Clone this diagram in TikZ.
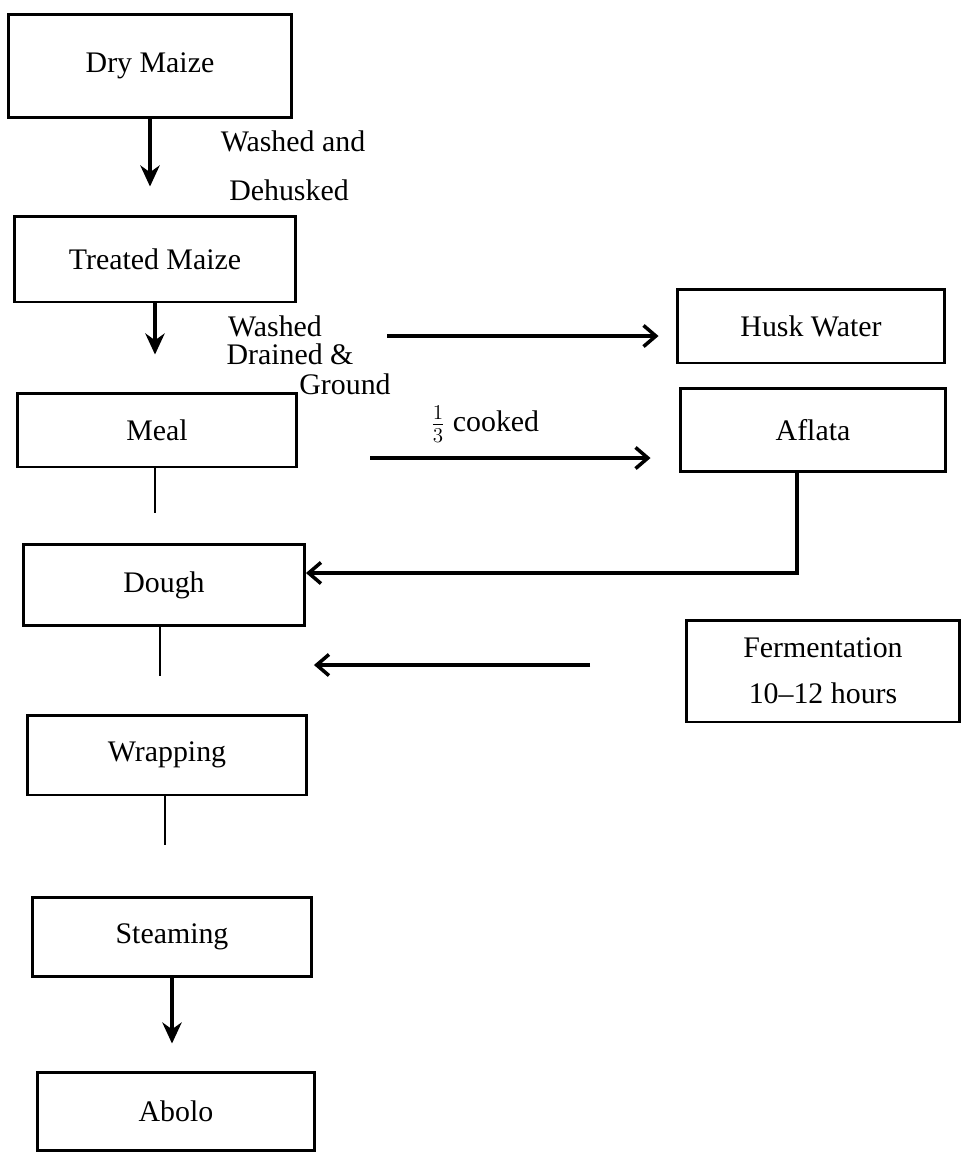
\documentclass[tikz,border=0pt]{standalone}
\usepackage{fontspec}
\setmainfont{Liberation Serif}
\usetikzlibrary{arrows.meta}

\tikzset{
	box/.style={draw, line width=1.7pt, inner sep=0pt, align=center},
	lbl/.style={inner sep=0pt},
	flow/.style={line width=1.9pt, -{Stealth[length=12pt,width=11pt]}},
	side/.style={line width=2pt, -{Straight Barb[length=7pt,width=12pt,line width=2pt]}},
	stub/.style={line width=1.2pt}
}

\begin{document}
\begin{tikzpicture}[x=0.02cm,y=-0.02cm,font=\fontsize{17}{20}\selectfont]
	\useasboundingbox (0,0) rectangle (961,1153);

	\node[box, minimum width=5.68cm, minimum height=2.08cm] (dry) at (150,66) {Dry Maize};
	\node[box, minimum width=5.62cm, minimum height=1.72cm] (treated) at (155,259) {Treated Maize};
	\node[box, minimum width=5.58cm, minimum height=1.48cm] (meal) at (157,430) {Meal};
	\node[box, minimum width=5.62cm, minimum height=1.62cm] (dough) at (164,585) {Dough};
	\node[box, minimum width=5.58cm, minimum height=1.60cm] (wrap) at (167,755) {Wrapping};
	\node[box, minimum width=5.58cm, minimum height=1.58cm] (steam) at (172,937) {Steaming};
	\node[box, minimum width=5.56cm, minimum height=1.56cm] (abolo) at (176,1111) {Abolo};
	\node[box, minimum width=5.36cm, minimum height=1.48cm] (husk) at (811,326) {Husk Water};
	\node[box, minimum width=5.32cm, minimum height=1.66cm] (aflata) at (813,430) {Aflata};
	\node[box, minimum width=5.48cm, minimum height=2.04cm] (ferm) at (823,671) {Fermentation\\[6pt]10--12 hours};

	\node[lbl] (washed1) at (293,141) {Washed and};
	\node[lbl] (dehusked) at (289,190) {Dehusked};
	\node[lbl] (washed2) at (275,326) {Washed};
	\node[lbl] (drained) at (290,354) {Drained \&};
	\node[lbl] (ground) at (345,384) {Ground};
	\node[lbl] (cooked) at (485,424) {$\frac{1}{3}$ cooked};

	\coordinate (h0) at (387,336);
	\coordinate (a0) at (370,458);
	\coordinate (f0) at (590,665);
	\coordinate (m1) at (155,513);
	\coordinate (d1) at (160,676);
	\coordinate (w1) at (165,845);

	\path [flow] (dry.south) edge[shorten >=0.56cm] (dry.south |- treated.north);
	\path [flow] (treated.south) edge[shorten >=0.74cm] (treated.south |- meal.north);
	\path [flow] (steam.south) edge[shorten >=0.54cm] (steam.south |- abolo.north);

	\path [side] (h0) edge[shorten >=0.34cm] (h0 -| husk.west);
	\path [side] (a0) edge[shorten >=0.56cm] (a0 -| aflata.west);
	\path [side] (f0) edge[shorten >=0.16cm] (f0 -| dough.east);
	\draw [side] ([xshift=-0.32cm]aflata.south) |- ([yshift=0.24cm]dough.east);

	\draw [stub] (m1 |- meal.south) -- (m1);
	\draw [stub] (d1 |- dough.south) -- (d1);
	\draw [stub] (w1 |- wrap.south) -- (w1);
\end{tikzpicture}
\end{document}
